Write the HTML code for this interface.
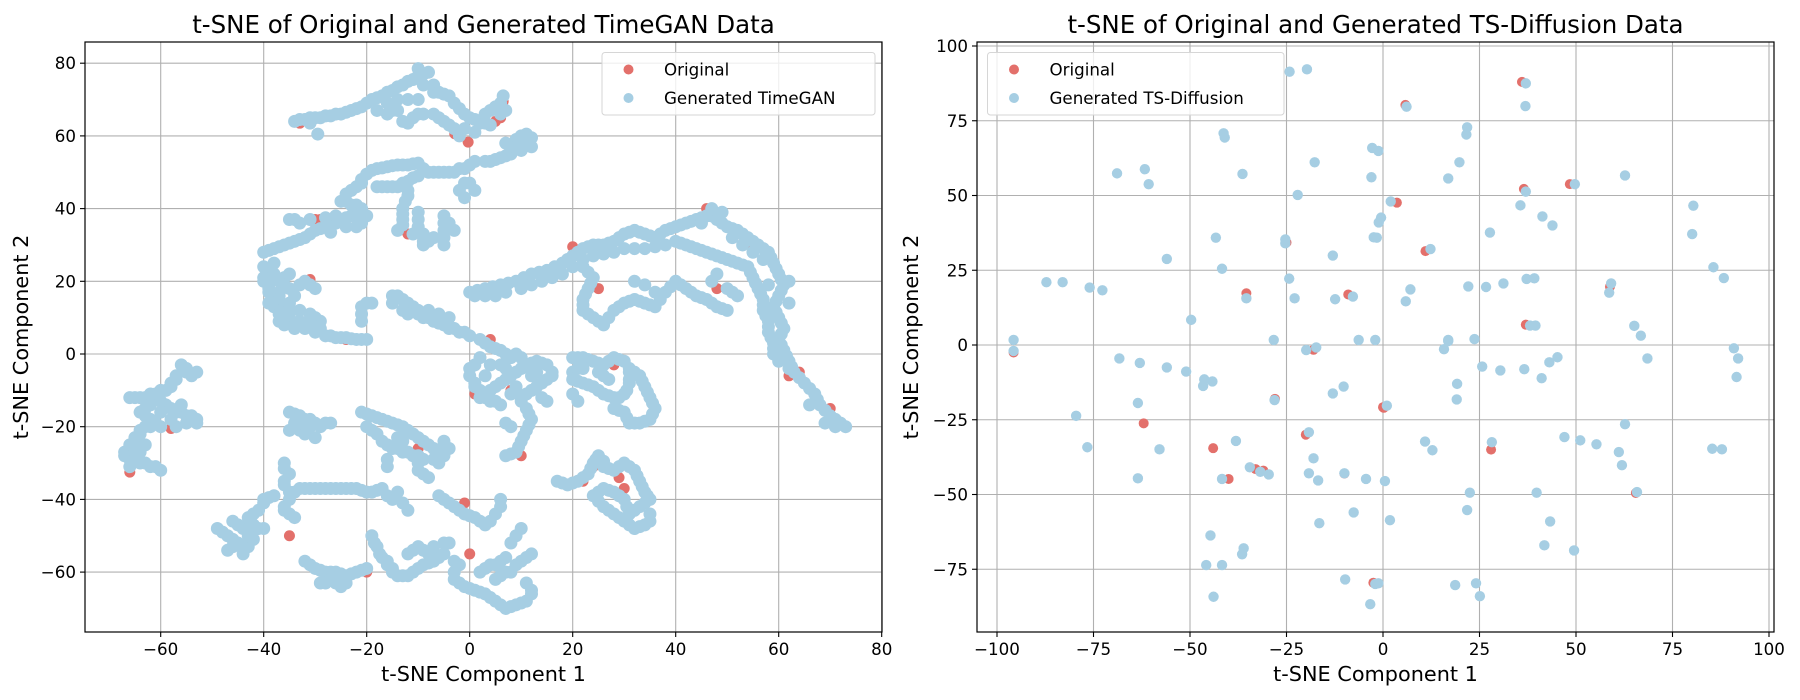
<!DOCTYPE html>
<html><head><meta charset="utf-8"><style>
html,body{margin:0;padding:0;background:#fff;}
svg{display:block;font-family:"DejaVu Sans","Liberation Sans",sans-serif;}
</style></head><body>
<svg id="fig" width="1800" height="700" viewBox="0 0 1800 700" xmlns="http://www.w3.org/2000/svg"></svg>
<script>
// ---------- LEFT CHART DATA (TimeGAN) : [x, y] pairs ----------
const leftXTicks = [-60,-40,-20,0,20,40,60,80];
const leftYTicks = [-60,-40,-20,0,20,40,60,80];
const leftGen = [
[-34,64],[-33,64.5],[-32,64.5],[-31,65],[-30,65],[-29,65],[-28,65.5],[-27,65.5],[-26,66],[-25,66],[-24,66.5],[-23,67],[-22,67.5],[-21,68],[-29.5,60.5],[-31,63.5],
[-20,69],[-19,70],[-18,70.5],[-17,71],[-16,72],[-15,72.5],[-14,73.5],[-13,74],[-12,75],[-11,75.5],[-10,76.5],[-9,77],[-10,78.5],[-8,77.5],[-9,74],[-7,74],[-7,72],[-6,72],[-5,71.5],[-4,71],[-3,69],[-2,67.5],[-1,66],[0,65],[1,64.5],[2,64],[3,63.5],[4,63],
[-18,67],[-16,66],[-15,67],[-14,67],[-13,64],[-12,63.5],[-11,65],[-10,66],[-9,66],[-10,70],[-12,70],[-14,70],[-16,69],
[-5,64],[-4,63],[-3,62],[-2,61],[-1,62],[1,61],[-2,60],[2,63.5],[3,66],[4,67],[5,68],[6,69],[6.5,71],[7,67],[6,66],[-6,65],[-7,66],
[7,58],[8,57],[9,59],[10,60],[11,58],[12,59.5],[12,57],[10,56],[8,55],[7,54.5],[6,54],[5,53.5],[4,53],[3,53],[9,57],[11,60.5],
[-40,28],[-39,28.5],[-38,29],[-37,29.5],[-36,30],[-35,30.5],[-34,31],[-33,31.5],[-32,32],[-31,33],[-30,34],[-29,34.5],[-28,35],[-27,35.5],[-26,36],[-25,37],[-24,37.5],[-23,38],[-22,38.5],[-21,40],[-22,41],[-23,41],[-24,42],[-25,42],[-24,44],[-23,45],[-22,46],[-21,47],[-21,48],[-20,49.5],[-19,50.5],[-18,51],[-17,51.2],[-16,51.5],[-15,51.8],[-14,52],[-13,52],[-12,52],[-11,52.3],[-10,52.5],[-9,51],[-10,49],[-11,48.5],[-12,47.5],[-13,47],[-14,46],[-15,46],[-16,46],[-17,46],[-18,46],
[-12,45],[-12,43.5],[-12.5,42],[-13,40],[-13,38.5],[-13,37],[-13,35.5],[-14,34],[-10,39],[-10,37],[-10,35],[-9,33],[-9,31],[-11,33],[-35,37],[-34,37],[-33,36],[-31,37],[-28,37.5],[-26,38],[-27,33.5],[-24,35],[-22,35],[-21,36],[-20,38],
[-8,50],[-7,50],[-6,50],[-5,50],[-4,50],[-3,50],[-2,51],[-1,51],[0,52],[1,53],[-1,47],[0,47],[1,45],[-2,45],[-1,43],
[-5,38],[-5,36],[-5,34],[-5,32],[-5,30],[-7,32],[-8,31],[-9,30],[-3,34],[-4,36],
[-40,24],[-39,23],[-38,22],[-40,21],[-40,20],[-39,19],[-39,18],[-37,17],[-37,16],[-35,18],[-36,19],[-37,20],[-36,21],[-35,22],[-38,25],[-39,14],[-38,13],[-36,13],[-35,14],[-34,16],[-33,19],[-32,20],[-31,19],[-30,18],[-38,15],
[-39,17],[-37,11],[-35,12],[-33,12],[-31,11],[-30,10],[-29,9],[-29,7],[-31,9],[-33,9],[-35,10],[-37,9],[-36,8],[-34,7],[-32,7],[-30,6],[-28,5],[-27,5],[-26,4.5],[-25,4.5],[-24,4.5],[-23,4.2],[-22,4],[-21,4],[-20,4],[-21,9],[-21,11],[-21,13],[-20,14],[-19,14],
[-15,16],[-14,16],[-13,15],[-12,14],[-11,13],[-10,12],[-10,11],[-12,11],[-13,12],[-9,10],[-8,10],[-7,9],[-6,8.5],[-5,8],[-4,7],[-3,7],[-2,6],[-1,6],[0,5],[-6,11],[-8,12],[-4,10],[-15,14],
[-56,-3],[-55,-4],[-55,-5],[-54,-6],[-53,-5],[-57,-6],[-57,-7],[-58,-8],[-58,-9],[-59,-10],[-60,-10],[-61,-11],[-62,-11],[-63,-12],[-64,-12],[-65,-12],[-66,-12],[-60,-13],[-59,-14],[-58,-15],[-57,-16],[-56,-16],[-55,-17],[-54,-17],[-53,-18],[-53,-19],[-55,-19],[-56,-14],[-62,-14],[-63,-15],[-64,-16],[-63,-17],[-62,-18],[-61,-19],[-60,-20],[-62,-20],[-63,-20],[-64,-21],[-64,-22],[-65,-23],[-65,-24],[-66,-25],[-66,-26],[-67,-27],[-67,-28],[-66,-29],[-65,-29],[-64,-30],[-63,-30],[-62,-31],[-61,-31],[-60,-32],[-66,-31],[-64,-27],[-65,-27],[-63,-25],[-57,-20],[-58,-18],[-60,-16],
[-49,-48],[-48,-49],[-47,-50],[-46,-51],[-45,-52],[-44,-53],[-43,-53],[-44,-48],[-45,-47],[-46,-46],[-43,-45],[-42,-44],[-41,-43],[-40,-41],[-40,-40],[-39,-39.5],[-38,-39],[-42,-47],[-41,-48],[-40,-48],[-47,-54],[-46,-53],[-44,-55],[-43,-50],[-42,-51],
[-36,-30],[-36,-31.5],[-35,-33],[-36,-35],[-36,-36],[-35,-38],[-35,-40],[-36,-42],[-36,-43],[-35,-44],[-34,-45],[-34,-38],[-33,-37],[-32,-37],[-31,-37],[-30,-37],[-29,-37],[-28,-37],[-27,-37],[-26,-37],[-25,-37],[-24,-37],[-23,-37],[-22,-37],[-21,-37.5],[-20,-38],[-19,-38],[-18,-37.5],[-17,-37],[-16,-39],[-15,-40],[-14,-38],[-13,-41],[-12,-43],
[-35,-16],[-34,-16.5],[-33,-17],[-32,-18],[-31,-18],[-30,-19],[-29,-20],[-28,-19],[-27,-19],[-33,-21],[-32,-22],[-30,-23],[-35,-21],[-34,-19],[-31,-20],
[-21,-16],[-20,-16.5],[-19,-17],[-18,-17.5],[-17,-18],[-16,-18.5],[-15,-19],[-14,-19.5],[-13,-20],[-12,-21],[-11,-22],[-10,-23],[-9,-24],[-8,-25],[-7,-26],[-6,-27],[-5,-28],[-4,-26],[-5,-24],[-6,-30],[-7,-29],[-9,-29],[-10,-28],[-11,-28],[-12,-27],[-13,-27],[-14,-26],[-15,-26],[-16,-25],[-17,-24],[-18,-22],[-19,-21],[-20,-20],[-14,-23],[-13,-24],[-10,-32],[-9,-33],[-8,-34],[-10,-30],[-16,-29],[-16,-31],
[-32,-57],[-31,-58],[-30,-59],[-29,-59.5],[-28,-60],[-27,-60],[-26,-60],[-25,-60.5],[-24,-61],[-23,-60.5],[-22,-60],[-21,-59.5],[-20,-59],[-27,-62],[-28,-63],[-29,-63],[-26,-63],[-25,-64],[-24,-63],
[-19,-50],[-18.5,-52],[-18,-53],[-17.5,-55],[-17,-56],[-16,-57],[-16,-58],[-15,-59],[-15,-60],[-14,-61],[-13,-61],[-12,-61],[-11,-60],[-10,-59],[-9,-58],[-8,-57.5],[-7,-57],[-6,-56],[-5,-55],[-12,-55],[-11,-54],[-10,-53],[-9,-54],[-8,-55],[-7,-53],[-5,-52],[-4,-52],[-3,-57],[-2,-58],[-3,-60],[-3,-62],[-2,-63],[-1,-64],[0,-64.5],[1,-65],[2,-65.5],[3,-66],[4,-67],[5,-68],[6,-69],[7,-70],[8,-69.5],[9,-69],[10,-68.5],[11,-68],[12,-66],[12,-65],[11,-63],[5,-62],[6,-61],[7,-60],[8,-60],[9,-58],[10,-57],[11,-56],[12,-55],[7,-56],[6,-57],[5,-58],[4,-58],[3,-59],[2,-60],[8,-52],[9,-50],[10,-48],
[-5,-40],[-4,-41],[-3,-42],[-2,-43],[-1,-44],[0,-44.5],[1,-45],[2,-46],[3,-47],[4,-46],[5,-44],[6,-42],[6,-40],[-6,-39],
[2,4],[3,3],[4,2],[5,1.5],[6,1],[7,0],[8,-1],[1,-3],[0,-4],[0,-6],[1,-8],[1,-9],[2,-10],[3,-11],[4,-10],[5,-9],[6,-8],[7,-7],[8,-6],[9,-5],[10,-4],[11,-3],[12,-2.5],[13,-2],[14,-2.5],[15,-3],[16,-5],[16,-6],[15,-7],[14,-8],[13,-9],[12,-10],[11,-11],[10,-12],[10,-13],[11,-15],[11.5,-16.5],[12,-18],[11.5,-19.5],[11,-21],[10.5,-22.5],[10,-24],[9.5,-25.5],[9,-27],[8,-27.5],[7,-28],[8,-20],[7,-19],[6,-14],[5,-13],[4,-13],[3,-12],[2,-12],[6,-3],[7,-4],[9,0],[10,-1],[12,-6],[13,-5],[3,-6],[2,-1],[4,-3],[9,-9],[8,-11],[14,-12],[15,-13],
[20,-1],[21,-1],[22,-1],[23,-1.5],[24,-2],[25,-2.5],[26,-3],[27,-2],[28,-1],[29,-1.5],[30,-2],[31,-4],[31,-5],[31,-7],[31,-8],[30.5,-10],[30,-11],[29,-12],[28,-12],[27,-11.5],[26,-11],[25,-10],[24,-9],[23,-8.5],[22,-8],[21,-7.5],[20,-7],[20,-5],[21,-4],[22,-4],[32,-5],[33,-6],[33.5,-7.5],[34,-9],[34.5,-10.5],[35,-12],[35.5,-13.5],[36,-15],[35.5,-16.5],[35,-18],[34,-18.5],[33,-19],[32,-19],[31,-19],[30.5,-17.5],[30,-16],[29,-15.5],[28,-15],[25,-5],[26,-6],[27,-7],[20,-11],[21,-13],
[17,-35],[18,-35.5],[19,-36],[20,-35.5],[21,-35],[22,-34],[23,-33],[23.5,-31.5],[24,-30],[24.5,-29],[25,-28],[26,-29.5],[26,-31],[27,-31.5],[28,-32],[29,-31],[30,-30],[31,-31],[32,-32],[32.5,-33.5],[33,-35],[33.5,-36.5],[34,-38],[34.5,-39],[35,-40],[34,-41],[33,-42],[32,-43],[31,-44],[30.5,-42],[30,-40],[29,-39],[28,-38],[27,-37.5],[26,-37],[25,-38],[24,-39],[25,-40.5],[26,-42],[27,-43],[28,-44],[29,-45],[30,-46],[31,-47],[32,-48],[33,-47.5],[34,-47],[35,-46],[35,-44],
[0,17],[1.5,17.5],[3,18],[4.5,18.5],[6,19],[7.5,19.5],[9,20],[10.5,21],[12,22],[13.5,22.5],[15,23],[16.5,24],[18,25],[19,26],[20,27],[21,28],[22,29],[23,29.5],[24,30],[25,30],[26,30],[27,30.5],[28,31],[29,32],[30,33],[31,33.5],[32,34],[33,33.5],[34,33],[35,32.5],[36,32],[37,33],[38,34],[39,34.5],[40,35],[41,35.5],[42,36],[43,36.5],[44,37],[45,37.5],[46,38],[47,38],[48,37],[49,36],[50,35],[51,34.5],[52,34],[53,33],[54,32],[55,31],[56,30],[57,29],[58,28],[58.5,26.5],[59,25],[59.5,23.5],[60,22],[60.5,20.5],[61,19],[60.5,17.5],[60,16],[59.5,14.5],[59,13],[59.5,11.5],[60,10],[60.5,8.5],[61,7],[60.5,5.5],[60,4],[60.5,2.5],[61,1],[61.5,-0.5],[62,-2],[62.5,-3.5],[63,-5],[64,-6.5],[65,-8],[66,-9.5],[67,-11],[67.5,-12.5],[68,-14],[69,-15.5],[70,-17],[71,-18],[72,-19],[73,-20],[69,-19],[71,-20],[66,-14],
[40,31],[41,30.5],[42,30],[43,29.5],[44,29],[45,28.5],[46,28],[47,27.5],[48,27],[49,26.5],[50,26],[51,25.5],[52,25],[53,24.5],[54,24],[54.5,22.5],[55,21],[55.5,19.5],[56,18],[56.5,16.5],[57,15],[57,13.5],[57,12],[57.5,10.5],[58,9],[58,7.5],[58,6],[58.5,4.5],[59,3],[59,1.5],[59,0],[60,-2],[62,-4],
[1,16],[3,16],[5,16],[7,17],[10,18],[12,19],[14,20],[16,21],[18,22],[20,24],[22,26],[24,27],[26,27.5],[28,28],[30,29],[32,29],[34,29],[36,29.5],[38,30],[45,36],[47,40],[49,39],[51,32],[53,30],[55,28],[57,26],[62,20],[62,14],[58,19],
[22,24],[23,22.5],[24,21],[23.5,19.5],[23,18],[22.5,16.5],[22,15],[22,13.5],[22,12],[23,11],[24,10],[25,9],[26,8],[27,10],[28,12],[29,13],[30,14],[31,14.5],[32,15],[33,14.5],[34,14],[35,13.5],[36,13],[37,15],[38,17],[39,18.5],[40,20],[41,19],[42,18],[43,17],[44,16],[45,15.5],[46,15],[47,14],[48,13],[49,12.5],[50,12],[47,20],[48,22],[50,18],[51,17],[52,16],[36,17],[34,19],[32,20]
];
const leftOrig = [[-21,68],[-33,63.5],[5,64],[6,65],[6.5,69.5],[-0.3,58.3],[-2.9,60.6],[-29,37],[-30,37],[-31,20.5],[-24,4],[-21,4],[-28,-19],[-66,-32.5],[-58,-20.5],[-35,-50],[-4,-26],[-10,-26],[-20,-60],[-10,-53],[0,-55],[-1,-41],[4,4],[8,-10],[1,-11],[10,-28],[5,-13],[28,-3],[29,-12],[22,-35],[30,-37],[29,-34],[24,-31],[46,40],[45,36],[22,29],[20,29.5],[55,30],[60,22],[62,-6],[70,-15],[73,-20],[64,-5],[47,20],[25,18],[42,18],[48,18],[-12,33]];

// ---------- RIGHT CHART DATA (TS-Diffusion) ----------
const rightXTicks = [-100,-75,-50,-25,0,25,50,75,100];
const rightYTicks = [-75,-50,-25,0,25,50,75,100];
const rightGenX = [-24.2,-19.7,-41.3,-41,-2.8,-17.7,-68.9,-61.7,-60.7,-36.4,-3,-22.1,-43.3,-25.3,-25.3,-2.4,-13,-56,-41.7,-24.3,-87.2,-83,-76,-72.7,-35.4,-22.9,-12.4,-7.8,-49.7,-95.7,-28.3,-6.3,-2,
37,36.9,6.1,21.8,21.6,-1.2,19.8,16.9,37,49.7,62.7,2,35.6,41.3,43.9,80.4,80.1,-0.5,-1.1,-1.6,27.7,12.3,85.6,88.3,7.1,5.9,22.1,26.7,31.2,37.2,39.2,59.1,58.6,38.1,39.5,65.1,66.8,16.9,23.7,
-95.7,-19.9,-17.3,-68.3,-63,-56,-51,-46.3,-44.2,-46.6,-28.1,-10.2,-13,-63.5,-79.5,-19.2,-76.6,-57.9,-38.1,-18,-34.5,-31.8,-29.6,-63.5,-41.7,-19.2,-16.8,-10,-4.4,-7.6,-16.5,-44.7,-36.1,-36.5,-45.8,-41.7,-43.9,-9.8,-2,-3.3,
16.9,15.8,68.5,90.9,92,91.6,25.7,30.4,36.6,43.1,45.2,41.1,19.2,19.1,1,62.7,10.9,12.8,28.2,47,51.1,55.3,61.1,61.9,85.3,87.8,0.5,22.5,21.8,1.8,39.8,65.8,43.3,41.8,49.5,-1.2,18.7,24.1,25.1];
const rightGenY = [91.4,92.2,70.8,69.4,65.9,61.1,57.4,58.8,53.8,57.2,56.1,50.2,35.9,35.3,34,36,29.9,28.8,25.5,22.2,21,21,19.2,18.3,15.6,15.6,15.3,16.2,8.4,1.7,1.7,1.7,1.7,
87.5,79.9,79.7,72.8,70.4,64.9,61.1,55.7,51.3,53.8,56.7,48,46.7,43,40,46.6,37.1,42.6,41,35.9,37.6,32.1,26,22.4,18.6,14.6,19.6,19.4,20.6,22.1,22.3,20.6,17.5,6.5,6.5,6.4,3.1,1.7,2,
-2,-1.7,-0.8,-4.5,-6,-7.5,-8.9,-11.5,-12.2,-13.7,-18.4,-13.9,-16.2,-19.4,-23.7,-29.2,-34.2,-34.9,-32.1,-37.9,-40.9,-42.4,-43.3,-44.6,-44.8,-42.9,-45.3,-42.9,-44.8,-56,-59.6,-63.7,-68,-70,-73.6,-73.6,-84.2,-78.4,-79.9,-86.7,
1.3,-1.4,-4.5,-1.1,-4.5,-10.7,-7.2,-8.5,-8.1,-5.8,-4.1,-11.1,-13,-18.2,-20.3,-26.5,-32.3,-35.2,-32.5,-30.8,-31.9,-33.2,-35.8,-40.2,-34.7,-34.9,-45.5,-49.4,-55.2,-58.6,-49.4,-49.2,-59,-67,-68.7,-79.7,-80.3,-79.7,-84];
const rightOrigX = [36,5.8,48.4,3.6,11,-25,-35.4,-9,-95.7,-28,-18,-33,-40,-31,-62,0,28,-10,65.5,58.8,36.5,-2.5,37,0.2,-44,-20];
const rightOrigY = [88,80.3,53.8,47.6,31.4,34.3,17.3,16.9,-2.5,-18,-1.6,-41.5,-44.8,-42,-26.2,-20.8,-35,-43,-49.5,19.5,52.2,-79.5,6.8,-21,-34.5,-30];

const NS = "http://www.w3.org/2000/svg";
const svg = document.getElementById('fig');
function mk(tag, attrs, parent){const e=document.createElementNS(NS,tag);for(const k in attrs)e.setAttribute(k,attrs[k]);(parent||svg).appendChild(e);return e;}
const RED = "#e3706b", BLUE = "#a6cee3";

function drawChart(cfg){
  const g = mk('g',{});
  
  
  const sx = v => cfg.x0px + v * cfg.kx;
  const sy = v => cfg.y0px - v * cfg.ky;
  cfg.xTicks.forEach(t=>{
    const l = mk('line',{x1:sx(t),x2:sx(t),y1:cfg.top,y2:cfg.bottom,stroke:'#b0b0b0','stroke-width':1.1},g);
    
    
  });
  cfg.yTicks.forEach(t=>{
    const l = mk('line',{x1:cfg.left,x2:cfg.right,y1:sy(t),y2:sy(t),stroke:'#b0b0b0','stroke-width':1.1},g);
    
    
  });
  const pg = mk('g',{},g);
  
  
  cfg.ox.forEach((x,i)=>{
    const c = mk('circle',{cx:sx(x),cy:sy(cfg.oy[i]),r:cfg.r,fill:RED},pg);
    
    
  });
  const bg = mk('g',{},g);
  
  
  cfg.gx.forEach((x,i)=>{
    const c = mk('circle',{cx:sx(x),cy:sy(cfg.gy[i]),r:cfg.rb,fill:BLUE},bg);
    
    
  });
  const sp = mk('rect',{x:cfg.left,y:cfg.top,width:cfg.right-cfg.left,height:cfg.bottom-cfg.top,fill:'none',stroke:'#000','stroke-width':1.2},g);
  
  
  cfg.xTicks.forEach(t=>{
    mk('line',{x1:sx(t),x2:sx(t),y1:cfg.bottom,y2:cfg.bottom+5,stroke:'#000','stroke-width':1.1},g);
    const tx = mk('text',{x:sx(t),y:cfg.bottom+23,'text-anchor':'middle','font-size':16.7,fill:'#000'},g);
    tx.textContent = String(t).replace('-','\u2212');
    
    
  });
  cfg.yTicks.forEach(t=>{
    mk('line',{x1:cfg.left-5,x2:cfg.left,y1:sy(t),y2:sy(t),stroke:'#000','stroke-width':1.1},g);
    const tx = mk('text',{x:cfg.left-9,y:sy(t)+6,'text-anchor':'end','font-size':16.7,fill:'#000'},g);
    tx.textContent = String(t).replace('-','\u2212');
    
    
  });
  const cx = (cfg.left+cfg.right)/2, cy=(cfg.top+cfg.bottom)/2;
  const ti = mk('text',{x:cx,y:33,'text-anchor':'middle','font-size':24.5,fill:'#000'},g);
  ti.textContent = cfg.title;
  
  
  const xl = mk('text',{x:cx,y:681,'text-anchor':'middle','font-size':20.8,fill:'#000'},g);
  xl.textContent = 't-SNE Component 1';
  
  
  const yl = mk('text',{x:0,y:0,'text-anchor':'middle','font-size':20.8,fill:'#000',transform:`translate(${cfg.ylabX},${cy}) rotate(-90)`},g);
  yl.textContent = 't-SNE Component 2';
  
  
  const L = cfg.legend;
  const lg = mk('g',{},g);
  
  
  mk('rect',{x:L.x,y:L.y,width:L.w,height:L.h,rx:3,fill:'#fff','fill-opacity':0.8,stroke:'#d6d6d6','stroke-width':1},lg);
  [[RED,'Original',L.y+17],[BLUE,cfg.genLabel,L.y+45.5]].forEach(([col,lab,yy])=>{
    const e = mk('g',{},lg);
    
    
    mk('circle',{cx:L.x+26.5,cy:yy,r:5,fill:col},e);
    const t = mk('text',{x:L.x+62,y:yy+6,'font-size':16.7,fill:'#000'},e);
    t.textContent = lab;
  });
}

drawChart({name:'timegan-tsne-chart',left:85,right:882,top:42,bottom:632,x0px:469.7,kx:5.15,y0px:354,ky:3.635,r:5.5,rb:6.5,
  xTicks:leftXTicks,yTicks:leftYTicks,
  gx:leftGen.map(p=>p[0]),gy:leftGen.map(p=>p[1]),ox:leftOrig.map(p=>p[0]),oy:leftOrig.map(p=>p[1]),
  title:'t-SNE of Original and Generated TimeGAN Data',genLabel:'Generated TimeGAN',ylabX:28,
  legend:{x:602,y:52.5,w:273,h:62.5}});
drawChart({name:'ts-diffusion-tsne-chart',left:977,right:1774,top:42,bottom:632,x0px:1383,kx:3.86,y0px:345,ky:2.99,r:5,rb:5.2,
  xTicks:rightXTicks,yTicks:rightYTicks,gx:rightGenX,gy:rightGenY,ox:rightOrigX,oy:rightOrigY,
  title:'t-SNE of Original and Generated TS-Diffusion Data',genLabel:'Generated TS-Diffusion',ylabX:918,
  legend:{x:987.5,y:52.5,w:296.5,h:62.5}});
</script>
</body></html>
